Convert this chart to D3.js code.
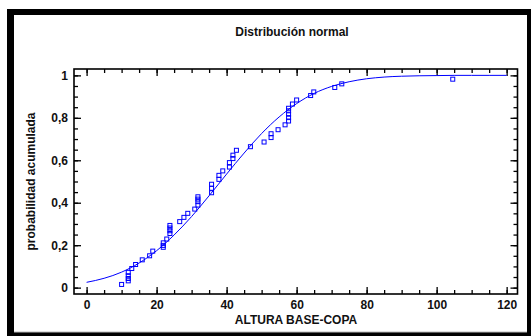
<!DOCTYPE html>
<html>
<head>
<meta charset="utf-8">
<script src="https://cdn.jsdelivr.net/npm/d3@7"></script>
<style>
  html, body { margin: 0; padding: 0; background: #fff; }
  svg text { font-family: Arial, "Liberation Sans", sans-serif; font-weight: bold; fill: #111; }
</style>
</head>
<body>
<svg class="svg" width="531" height="336"></svg>
<script>
// observed points (ALTURA BASE-COPA, cumulative probability)
const obsX = [10.0, 11.9, 11.9, 11.9, 11.9, 12.9, 14.0, 15.9, 18.0, 18.9,
  21.9, 21.9, 21.9, 22.9, 23.8, 23.8, 23.8, 23.8, 26.6, 27.8,
  28.9, 30.9, 31.8, 31.8, 31.8, 31.8, 35.7, 35.7, 35.7, 37.8,
  37.8, 38.9, 40.8, 40.8, 41.8, 41.8, 42.8, 46.8, 50.7, 52.7,
  52.7, 54.7, 56.7, 57.7, 57.7, 57.7, 57.7, 57.7, 58.8, 60.0,
  64.0, 64.9, 70.9, 72.9, 104.6];
const obsP = [0.015, 0.032, 0.043, 0.056, 0.072, 0.090, 0.109, 0.131, 0.150, 0.172,
  0.190, 0.199, 0.211, 0.229, 0.255, 0.268, 0.281, 0.293, 0.311, 0.331,
  0.350, 0.370, 0.389, 0.405, 0.417, 0.428, 0.447, 0.468, 0.487, 0.510,
  0.529, 0.550, 0.568, 0.589, 0.608, 0.624, 0.647, 0.664, 0.686, 0.707,
  0.725, 0.744, 0.767, 0.785, 0.801, 0.817, 0.833, 0.845, 0.865, 0.884,
  0.905, 0.922, 0.943, 0.960, 0.982];

// fitted normal curve, read every 5 units
const curveX = [0, 5, 10, 15, 20, 25, 30, 35, 40, 45, 50, 55, 60,
  65, 70, 75, 80, 85, 90, 95, 100, 105, 110, 115, 120];
const curveP = [0.025, 0.044, 0.073, 0.116, 0.174, 0.248, 0.335, 0.433, 0.535, 0.634, 0.726, 0.804, 0.867,
  0.915, 0.948, 0.970, 0.984, 0.992, 0.996, 0.998, 0.999, 1.0, 1.0, 1.0, 1.0];

const xMajor = [0, 20, 40, 60, 80, 100, 120];
const yMajor = [0, 0.2, 0.4, 0.6, 0.8, 1];
const yLabels = ['0', '0,2', '0,4', '0,6', '0,8', '1'];

const width = 531, height = 336;
const plot = { left: 74, right: 517.5, top: 69, bottom: 294 };
const blue = '#0000ff';

const svg = d3.select('.svg');

/* window frame */
svg.append('rect').attr('x', 7).attr('y', 9).attr('width', width - 7).attr('height', height - 9).attr('fill', '#000');
svg.append('rect').attr('x', 14).attr('y', 15).attr('width', 513).attr('height', 317).attr('fill', '#fff');
svg.append('line').attr('x1', 14).attr('x2', 527).attr('y1', 332).attr('y2', 332).attr('stroke', '#bbb');

/* scales */
const xScale = d3.scaleLinear().domain([-3.6, 123.1]).range([plot.left, plot.right]);
const yScale = d3.scaleLinear().domain([-0.03, 1.03]).range([plot.bottom, plot.top]);
const xMinor = d3.range(0, 125, 5);
const yMinor = d3.range(0, 1.001, 0.05);

function drawAxis(axis, tx, ty, major) {
  const g = svg.append('g').attr('transform', `translate(${tx},${ty})`).call(axis);
  g.select('.domain').remove();
  g.selectAll('line').attr('stroke', '#000').attr('stroke-width', 1.3);
  g.selectAll('text').style('font-size', '12px');
  return g;
}

/* bottom */
drawAxis(d3.axisBottom(xScale).tickValues(xMinor).tickSizeInner(-4).tickSizeOuter(0).tickFormat(''), 0, plot.bottom);
drawAxis(d3.axisBottom(xScale).tickValues(xMajor).tickSizeInner(-7).tickSizeOuter(0).tickPadding(6).tickFormat(d3.format('d')), 0, plot.bottom);
/* top */
drawAxis(d3.axisTop(xScale).tickValues(xMinor).tickSizeInner(-4).tickSizeOuter(0).tickFormat(''), 0, plot.top);
drawAxis(d3.axisTop(xScale).tickValues(xMajor).tickSizeInner(-7).tickSizeOuter(0).tickFormat(''), 0, plot.top);
/* left */
drawAxis(d3.axisLeft(yScale).tickValues(yMinor).tickSizeInner(-4).tickSizeOuter(0).tickFormat(''), plot.left, 0);
drawAxis(d3.axisLeft(yScale).tickValues(yMajor).tickSizeInner(-7).tickSizeOuter(0).tickPadding(6)
  .tickFormat((d, i) => yLabels[i]), plot.left, 0);
/* right */
drawAxis(d3.axisRight(yScale).tickValues(yMinor).tickSizeInner(-4).tickSizeOuter(0).tickFormat(''), plot.right, 0);
drawAxis(d3.axisRight(yScale).tickValues(yMajor).tickSizeInner(-7).tickSizeOuter(0).tickFormat(''), plot.right, 0);

/* plot frame */
svg.append('rect')
  .attr('x', plot.left).attr('y', plot.top)
  .attr('width', plot.right - plot.left).attr('height', plot.bottom - plot.top)
  .attr('fill', 'none').attr('stroke', '#000').attr('stroke-width', 1.6);

/* fitted curve */
const line = d3.line()
  .x((d, i) => xScale(curveX[i]))
  .y(d => yScale(d))
  .curve(d3.curveMonotoneX);
svg.append('path')
  .datum(curveP)
  .attr('d', line)
  .attr('fill', 'none')
  .attr('stroke', blue)
  .attr('stroke-width', 1);

/* observed squares */
svg.selectAll('.pt')
  .data(obsP).enter()
  .append('rect')
  .attr('class', 'pt')
  .attr('x', (d, i) => xScale(obsX[i]) - 2)
  .attr('y', d => yScale(d) - 2)
  .attr('width', 4)
  .attr('height', 4)
  .attr('fill', 'none')
  .attr('stroke', blue)
  .attr('stroke-width', 1);

/* titles */
svg.append('text')
  .attr('x', 292).attr('y', 36)
  .attr('text-anchor', 'middle')
  .style('font-size', '12px')
  .text('Distribución normal');

svg.append('text')
  .attr('x', 296).attr('y', 324)
  .attr('text-anchor', 'middle')
  .style('font-size', '12px')
  .text('ALTURA BASE-COPA');

svg.append('text')
  .attr('transform', `translate(35,${(plot.top + plot.bottom) / 2}) rotate(-90)`)
  .attr('text-anchor', 'middle')
  .style('font-size', '12px')
  .text('probabilidad acumulada');
</script>
</body>
</html>
